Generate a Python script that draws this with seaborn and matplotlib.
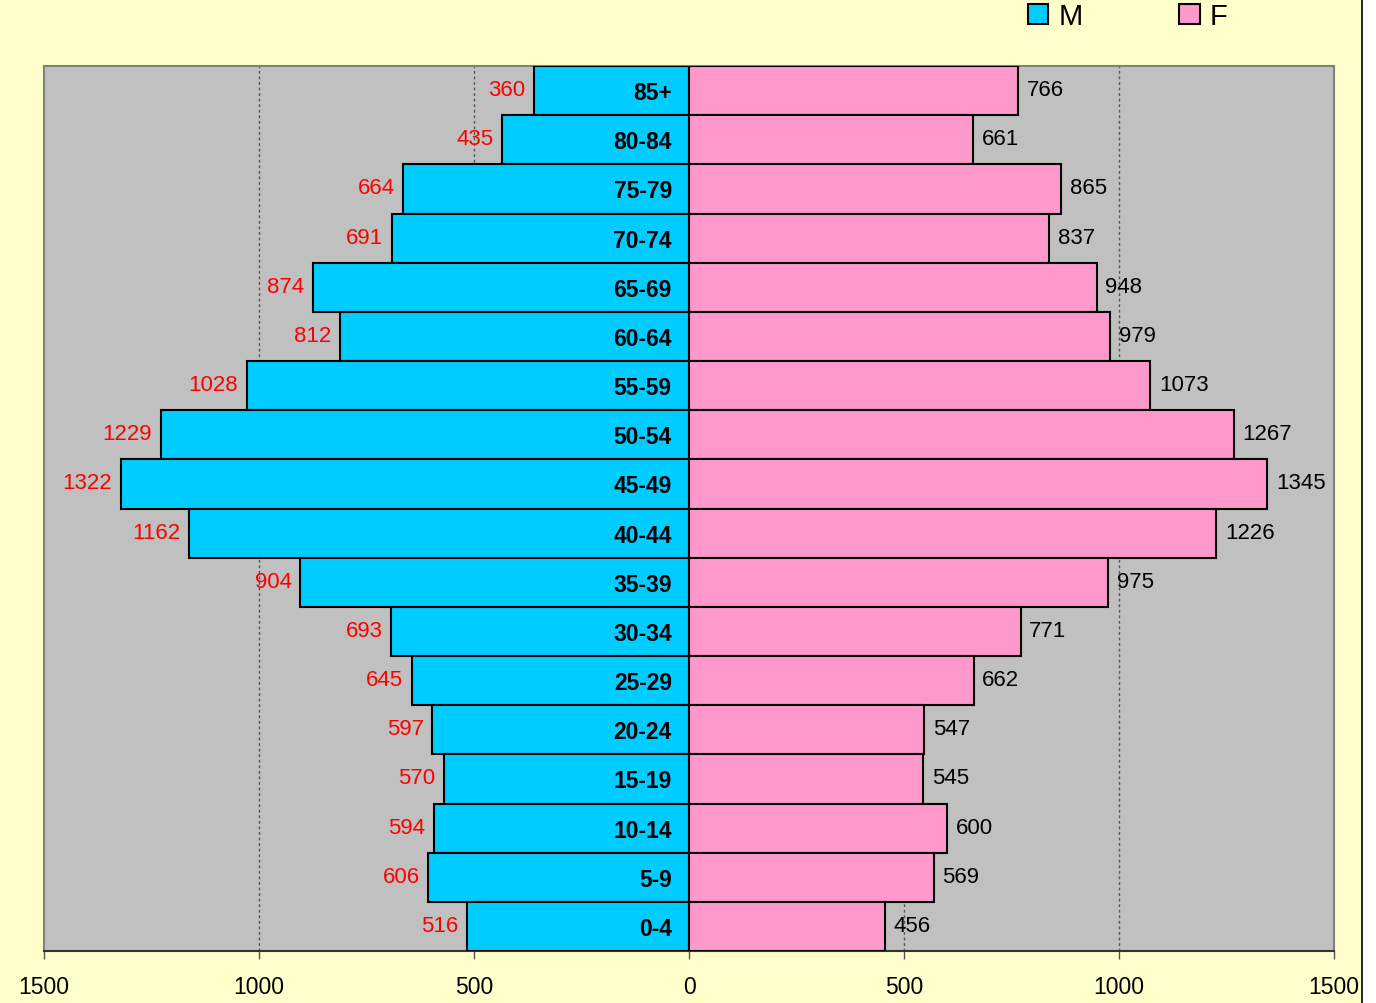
import matplotlib
matplotlib.use("Agg")
import matplotlib.pyplot as plt
import seaborn as sns
import pandas as pd
from matplotlib.patches import Patch, Rectangle
from matplotlib.lines import Line2D

ages = ['85+', '80-84', '75-79', '70-74', '65-69', '60-64', '55-59', '50-54', '45-49',
        '40-44', '35-39', '30-34', '25-29', '20-24', '15-19', '10-14', '5-9', '0-4']
males = [360, 435, 664, 691, 874, 812, 1028, 1229, 1322, 1162, 904, 693, 645, 597, 570, 594, 606, 516]
females = [766, 661, 865, 837, 948, 979, 1073, 1267, 1345, 1226, 975, 771, 662, 547, 545, 600, 569, 456]
xticks = [-1500, -1000, -500, 0, 500, 1000, 1500]

m_color = '#00CCFF'
f_color = '#FF99CC'

df = pd.DataFrame({'age': ages, 'M': [-v for v in males], 'F': females})

plt.rcParams['font.family'] = ['Liberation Sans', 'DejaVu Sans']

fig = plt.figure(figsize=(13.76, 10.04), dpi=100, facecolor='#FFFFCC')
ax = fig.add_axes([44 / 1376, 1 - 952 / 1004, (1334 - 44) / 1376, (952 - 67) / 1004])
ax.set_facecolor('#C0C0C0')

sns.barplot(data=df, x='M', y='age', order=ages, color=m_color, width=1.0,
            edgecolor='black', linewidth=1.5, saturation=1, ax=ax, zorder=3)
sns.barplot(data=df, x='F', y='age', order=ages, color=f_color, width=1.0,
            edgecolor='black', linewidth=1.5, saturation=1, ax=ax, zorder=3)

ax.set_xlim(-1500, 1500)
ax.set_ylim(len(ages) - 0.5, -0.5)
ax.set_xticks(xticks)
ax.set_xticklabels([str(abs(t)) for t in xticks], fontsize=16.5)
ax.tick_params(axis='x', direction='out', length=6, width=1, color='#555555', pad=11)
ax.tick_params(axis='y', left=False, labelleft=False)
ax.set_xlabel('')
ax.set_ylabel('')

for x in [-1000, -500, 500, 1000]:
    ax.axvline(x, color='#555555', linestyle=(0, (2, 2)), linewidth=1, zorder=1)

for s in ['top', 'left', 'right']:
    ax.spines[s].set_color('#808080')
    ax.spines[s].set_linewidth(1.5)
ax.spines['bottom'].set_color('#333333')
ax.spines['bottom'].set_linewidth(1.5)

for i, (a, m, f) in enumerate(zip(ages, males, females)):
    ax.text(-40, i + 0.04, a, ha='right', va='center', fontsize=16.5, fontweight='bold', zorder=5)
    ax.text(-m - 20, i - 0.02, str(m), ha='right', va='center', fontsize=16, color='red', zorder=5)
    ax.text(f + 20, i - 0.02, str(f), ha='left', va='center', fontsize=16, color='black', zorder=5)

handles = [Patch(facecolor=m_color, edgecolor='black', linewidth=1.5, label='M'),
           Patch(facecolor=f_color, edgecolor='black', linewidth=1.5, label='F')]
fig.legend(handles=handles, loc='center left', bbox_to_anchor=(1028 / 1376, 1 - 17 / 1004),
           ncol=2, frameon=False, fontsize=21, handlelength=0.7, handleheight=0.7,
           handletextpad=0.35, columnspacing=3.3, borderaxespad=0, borderpad=0)

# white strip and border at the right edge
fig.patches.append(Rectangle((1362 / 1376, 0), 14 / 1376, 1, transform=fig.transFigure,
                             facecolor='white', edgecolor='none', zorder=0))
fig.lines.append(Line2D([1361.5 / 1376, 1361.5 / 1376], [0, 1], transform=fig.transFigure,
                        color='black', linewidth=1.2))

fig.savefig('out.png', dpi=100, facecolor=fig.get_facecolor())
